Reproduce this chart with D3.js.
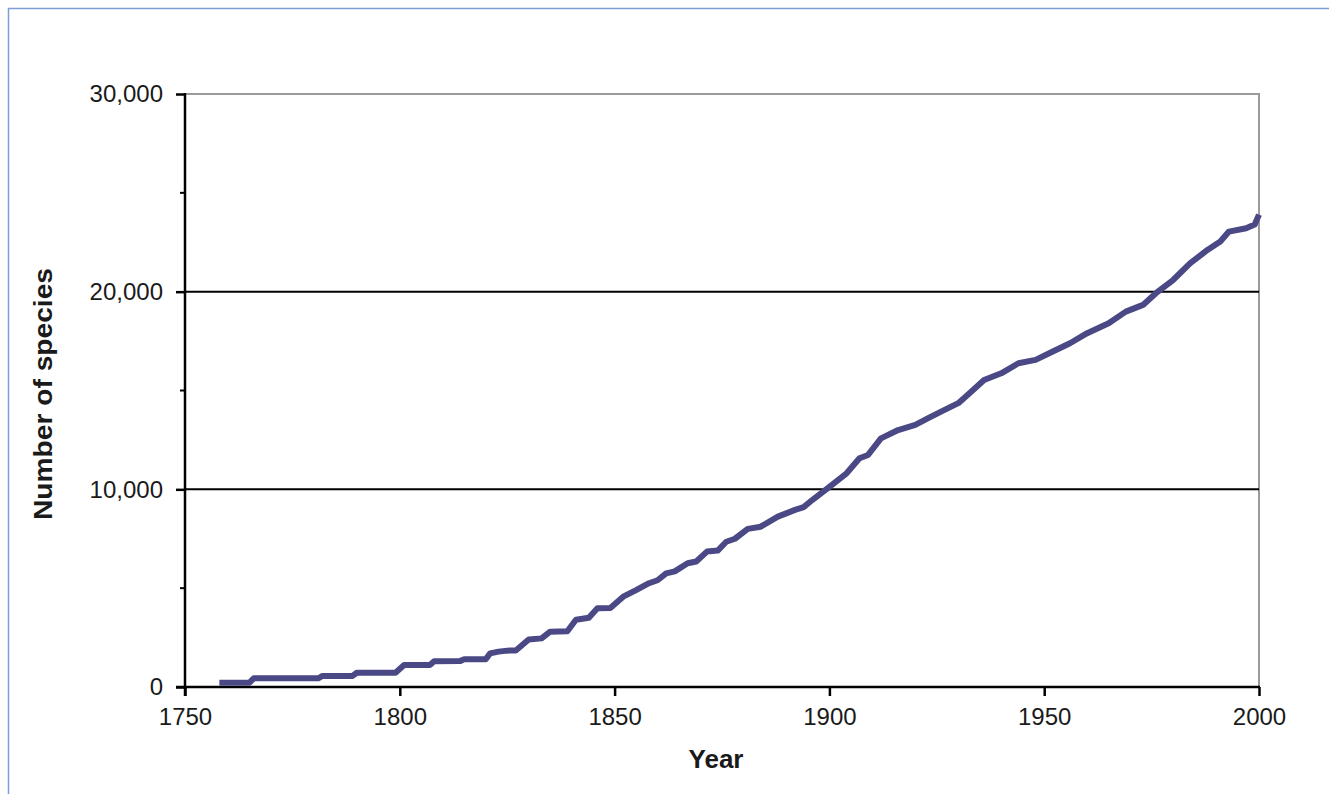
<!DOCTYPE html>
<html>
<head>
<meta charset="utf-8">
<script src="https://cdn.jsdelivr.net/npm/d3@7"></script>
<style>
  html, body { margin: 0; padding: 0; background: #fff; }
  svg { display: block; font-family: "Liberation Sans", Arial, sans-serif; }
</style>
</head>
<body>
<svg id="chart" width="1329" height="794"></svg>
<script>
// Cumulative number of described species.
const years = [
  1758, 1765, 1766, 1781, 1782, 1789, 1790, 1799, 1801, 1807, 1808, 1814, 1815, 1820,
  1821, 1823, 1825, 1827, 1830, 1833, 1835, 1839, 1841, 1844, 1846, 1849, 1852, 1855,
  1858, 1860, 1862, 1864, 1867, 1869, 1871.5, 1874, 1876, 1878, 1881, 1884, 1888, 1892,
  1894, 1896, 1900, 1904, 1907, 1909, 1912, 1916, 1920, 1923, 1926, 1930, 1933, 1936,
  1940, 1944, 1948, 1952, 1956, 1960, 1965, 1969, 1973, 1976, 1980, 1984, 1988, 1991,
  1993, 1997, 1999, 2000
];
const species = [
  220, 220, 440, 440, 560, 560, 720, 720, 1110, 1110, 1300, 1310, 1400, 1400,
  1700, 1790, 1840, 1850, 2400, 2460, 2800, 2820, 3400, 3500, 3980, 4000, 4570, 4900,
  5250, 5400, 5750, 5850, 6260, 6350, 6850, 6900, 7350, 7500, 8000, 8110, 8620, 8960,
  9100, 9460, 10130, 10810, 11570, 11740, 12580, 13000, 13260, 13600, 13930, 14360, 14940, 15530,
  15870, 16380, 16550, 16970, 17390, 17900, 18400, 18990, 19330, 19920, 20590, 21440, 22110, 22540,
  23040, 23210, 23400, 23900
];
const xTicks = [1750, 1800, 1850, 1900, 1950, 2000];
const yTicks = [0, 10000, 20000, 30000];
const yMinorTicks = [5000, 15000, 25000];
const yGrid = [10000, 20000];

const data = years.map((yr, i) => ({ year: yr, n: species[i] }));

const svg = d3.select("#chart");
const plot = { left: 185, right: 1259, top: 94, bottom: 687 };

const x = d3.scaleLinear().domain([1750, 2000]).range([plot.left, plot.right]);
const y = d3.scaleLinear().domain([0, 30000]).range([plot.bottom, plot.top]);

// thin blue page frame
svg.append("rect")
  .attr("x", 8.5).attr("y", 8.5)
  .attr("width", 1340).attr("height", 800)
  .attr("fill", "none")
  .attr("stroke", "#7c9fd6")
  .attr("stroke-width", 1.5);

// gray plot border (top and right)
svg.append("path")
  .attr("d", `M${plot.left},${plot.top}H${plot.right}V${plot.bottom}`)
  .attr("fill", "none")
  .attr("stroke", "#9a9a9a")
  .attr("stroke-width", 2);

// horizontal gridlines
svg.append("g")
  .selectAll("line")
  .data(yGrid)
  .join("line")
  .attr("x1", plot.left).attr("x2", plot.right)
  .attr("y1", d => y(d)).attr("y2", d => y(d))
  .attr("stroke", "#000")
  .attr("stroke-width", 2);

const fmt = d3.format(",");

// y axis
const yAxis = svg.append("g")
  .attr("transform", `translate(${plot.left},0)`)
  .call(d3.axisLeft(y).tickValues(yTicks).tickFormat(fmt).tickSize(9).tickPadding(13));
yAxis.select(".domain").remove();
yAxis.selectAll(".tick line").attr("stroke", "#000").attr("stroke-width", 2.5);
yAxis.selectAll(".tick text")
  .attr("font-size", 24)
  .attr("fill", "#1a1a1a")
  .attr("font-family", "Liberation Sans, Arial, sans-serif");

svg.append("g")
  .selectAll("line")
  .data(yMinorTicks)
  .join("line")
  .attr("x1", plot.left - 5).attr("x2", plot.left)
  .attr("y1", d => y(d)).attr("y2", d => y(d))
  .attr("stroke", "#000")
  .attr("stroke-width", 2);

svg.append("line")
  .attr("x1", plot.left).attr("x2", plot.left)
  .attr("y1", plot.top - 1).attr("y2", plot.bottom + 9)
  .attr("stroke", "#000")
  .attr("stroke-width", 2.5);

// x axis
const xAxis = svg.append("g")
  .attr("transform", `translate(0,${plot.bottom})`)
  .call(d3.axisBottom(x).tickValues(xTicks).tickFormat(d3.format("d")).tickSize(9).tickPadding(12));
xAxis.select(".domain").remove();
xAxis.selectAll(".tick line").attr("stroke", "#000").attr("stroke-width", 2.5);
xAxis.selectAll(".tick text")
  .attr("font-size", 24)
  .attr("fill", "#1a1a1a")
  .attr("font-family", "Liberation Sans, Arial, sans-serif");

svg.append("line")
  .attr("x1", plot.left - 9).attr("x2", plot.right + 1)
  .attr("y1", plot.bottom).attr("y2", plot.bottom)
  .attr("stroke", "#000")
  .attr("stroke-width", 2.5);

// the series
const line = d3.line()
  .x(d => x(d.year))
  .y(d => y(d.n));

svg.append("path")
  .datum(data)
  .attr("d", line)
  .attr("fill", "none")
  .attr("stroke", "#4b4886")
  .attr("stroke-width", 6)
  .attr("stroke-linejoin", "round");

// axis titles
svg.append("text")
  .attr("x", 716)
  .attr("y", 768)
  .attr("text-anchor", "middle")
  .attr("font-size", 26)
  .attr("font-weight", "bold")
  .attr("fill", "#1a1a1a")
  .text("Year");

svg.append("text")
  .attr("transform", "translate(52,394) rotate(-90)")
  .attr("text-anchor", "middle")
  .attr("font-size", 26)
  .attr("font-weight", "bold")
  .attr("fill", "#1a1a1a")
  .attr("textLength", 252)
  .attr("lengthAdjust", "spacingAndGlyphs")
  .text("Number of species");
</script>
</body>
</html>
